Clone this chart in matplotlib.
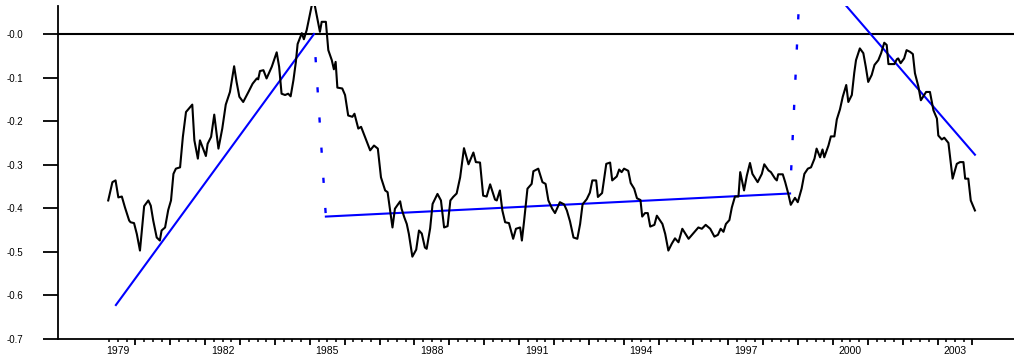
import matplotlib
matplotlib.use("Agg")
import matplotlib.pyplot as plt
import numpy as np

plt.rcParams["font.family"] = ["Liberation Sans", "DejaVu Sans"]

# serie mensal (ano decimal, valor)
anos = [1979.22, 1979.34, 1979.43, 1979.51, 1979.61, 1979.70, 1979.82, 1979.86, 1979.96, 1980.04,
        1980.13, 1980.25, 1980.37, 1980.44, 1980.51, 1980.61, 1980.70, 1980.75, 1980.85, 1980.94,
        1981.02, 1981.09, 1981.16, 1981.28, 1981.36, 1981.45, 1981.63, 1981.69, 1981.79, 1981.85,
        1982.02, 1982.07, 1982.17, 1982.26, 1982.38, 1982.49, 1982.59, 1982.71, 1982.83, 1982.90,
        1982.98, 1983.09, 1983.24, 1983.36, 1983.48, 1983.52, 1983.57, 1983.67, 1983.76, 1983.91,
        1984.05, 1984.12, 1984.19, 1984.29, 1984.38, 1984.45, 1984.53, 1984.60, 1984.65, 1984.77,
        1984.83, 1984.91, 1985.10, 1985.29, 1985.34, 1985.46, 1985.53, 1985.63, 1985.69, 1985.74,
        1985.79, 1985.93, 1986.01, 1986.10, 1986.22, 1986.28, 1986.39, 1986.47, 1986.58, 1986.73,
        1986.84, 1986.95, 1987.04, 1987.16, 1987.23, 1987.37, 1987.44, 1987.59, 1987.63, 1987.71,
        1987.78, 1987.84, 1987.94, 1988.05, 1988.13, 1988.21, 1988.30, 1988.35, 1988.45, 1988.52,
        1988.66, 1988.76, 1988.85, 1988.95, 1989.03, 1989.11, 1989.21, 1989.31, 1989.42, 1989.55,
        1989.69, 1989.76, 1989.88, 1989.97, 1990.07, 1990.17, 1990.31, 1990.36, 1990.45, 1990.52,
        1990.60, 1990.71, 1990.83, 1990.91, 1991.03, 1991.08, 1991.14, 1991.24, 1991.36, 1991.41,
        1991.55, 1991.67, 1991.76, 1991.84, 1991.95, 1992.03, 1992.17, 1992.29, 1992.37, 1992.46,
        1992.56, 1992.67, 1992.75, 1992.82, 1992.94, 1993.03, 1993.10, 1993.21, 1993.26, 1993.38,
        1993.50, 1993.61, 1993.67, 1993.80, 1993.87, 1993.94, 1994.01, 1994.13, 1994.20, 1994.30,
        1994.38, 1994.48, 1994.53, 1994.61, 1994.69, 1994.76, 1994.88, 1994.95, 1995.11, 1995.19,
        1995.28, 1995.38, 1995.47, 1995.57, 1995.68, 1995.86, 1996.02, 1996.14, 1996.24, 1996.35,
        1996.48, 1996.60, 1996.70, 1996.78, 1996.86, 1996.93, 1997.03, 1997.10, 1997.19, 1997.29,
        1997.34, 1997.45, 1997.53, 1997.62, 1997.69, 1997.84, 1997.96, 1998.03, 1998.15, 1998.22,
        1998.34, 1998.39, 1998.43, 1998.56, 1998.63, 1998.72, 1998.79, 1998.91, 1998.99, 1999.10,
        1999.18, 1999.28, 1999.37, 1999.47, 1999.53, 1999.63, 1999.70, 1999.75, 1999.87, 1999.94,
        2000.04, 2000.11, 2000.20, 2000.28, 2000.38, 2000.44, 2000.54, 2000.61, 2000.66, 2000.77,
        2000.87, 2000.94, 2001.01, 2001.11, 2001.19, 2001.30, 2001.38, 2001.47, 2001.54, 2001.59,
        2001.76, 2001.83, 2001.87, 2001.94, 2002.04, 2002.11, 2002.21, 2002.29, 2002.35, 2002.45,
        2002.52, 2002.59, 2002.67, 2002.78, 2002.88, 2002.98, 2003.02, 2003.12, 2003.19, 2003.31,
        2003.38, 2003.43, 2003.55, 2003.64, 2003.74, 2003.79, 2003.88, 2003.95, 2004.07]
valores = [-0.382, -0.340, -0.336, -0.375, -0.373, -0.398, -0.428, -0.432, -0.434, -0.459,
           -0.497, -0.395, -0.382, -0.394, -0.428, -0.467, -0.474, -0.451, -0.444, -0.404,
           -0.382, -0.321, -0.309, -0.306, -0.236, -0.179, -0.162, -0.244, -0.286, -0.244,
           -0.280, -0.252, -0.236, -0.185, -0.263, -0.217, -0.162, -0.133, -0.074, -0.110,
           -0.144, -0.156, -0.133, -0.114, -0.102, -0.104, -0.085, -0.083, -0.102, -0.075,
           -0.042, -0.075, -0.137, -0.140, -0.137, -0.143, -0.106, -0.064, -0.023, 0.002,
           -0.012, 0.009, 0.083, 0.005, 0.028, 0.028, -0.037, -0.060, -0.081, -0.064,
           -0.123, -0.125, -0.140, -0.187, -0.190, -0.183, -0.217, -0.213, -0.236, -0.267,
           -0.256, -0.263, -0.329, -0.359, -0.363, -0.444, -0.401, -0.384, -0.401, -0.421,
           -0.436, -0.459, -0.511, -0.495, -0.451, -0.458, -0.490, -0.493, -0.446, -0.390,
           -0.367, -0.382, -0.444, -0.441, -0.382, -0.374, -0.366, -0.329, -0.262, -0.299,
           -0.272, -0.294, -0.295, -0.371, -0.373, -0.345, -0.380, -0.382, -0.359, -0.405,
           -0.432, -0.434, -0.470, -0.447, -0.444, -0.474, -0.432, -0.355, -0.344, -0.315,
           -0.309, -0.340, -0.344, -0.382, -0.401, -0.411, -0.386, -0.391, -0.405, -0.430,
           -0.467, -0.470, -0.436, -0.391, -0.379, -0.364, -0.336, -0.336, -0.374, -0.365,
           -0.298, -0.295, -0.336, -0.327, -0.311, -0.317, -0.309, -0.314, -0.342, -0.355,
           -0.377, -0.381, -0.419, -0.411, -0.411, -0.442, -0.438, -0.417, -0.436, -0.459,
           -0.497, -0.481, -0.469, -0.478, -0.447, -0.470, -0.455, -0.444, -0.447, -0.438,
           -0.447, -0.465, -0.461, -0.447, -0.454, -0.436, -0.427, -0.398, -0.373, -0.373,
           -0.317, -0.359, -0.325, -0.296, -0.321, -0.340, -0.321, -0.299, -0.313, -0.317,
           -0.332, -0.336, -0.322, -0.322, -0.340, -0.367, -0.392, -0.376, -0.386, -0.355,
           -0.321, -0.309, -0.306, -0.286, -0.263, -0.283, -0.265, -0.283, -0.256, -0.235,
           -0.235, -0.196, -0.173, -0.144, -0.117, -0.156, -0.140, -0.089, -0.060, -0.033,
           -0.044, -0.075, -0.110, -0.094, -0.071, -0.060, -0.044, -0.020, -0.025, -0.069,
           -0.069, -0.058, -0.056, -0.067, -0.056, -0.037, -0.041, -0.046, -0.090, -0.121,
           -0.152, -0.143, -0.133, -0.133, -0.175, -0.194, -0.233, -0.242, -0.238, -0.250,
           -0.298, -0.332, -0.298, -0.294, -0.294, -0.332, -0.332, -0.382, -0.405]

# tendencias por trecho (inicio, fim)
trecho_anos = [(1979.44, 1985.12), (1985.46, 1998.77), (1999.09, 2004.07)]
trecho_vals = [(-0.622, 0.0), (-0.419, -0.366), (0.184, -0.277)]

ytick_vals = [-0.7, -0.6, -0.5, -0.4, -0.3, -0.2, -0.1, 0.0]
ytick_labels = ["-0.7", "-0.6", "-0.5", "-0.4", "-0.3", "-0.2", "-0.1", "-0.0"]
ano_labels = [1979, 1982, 1985, 1988, 1991, 1994, 1997, 2000, 2003]

fig = plt.figure(figsize=(10.14, 3.58), dpi=100)
ax = fig.add_axes([58 / 1014, 19 / 358, 956 / 1014, 333 / 358])

ax.axhline(0.0, color="black", lw=1.5, zorder=1)

azul = "#0000ff"
for (t0, t1), (v0, v1) in zip(trecho_anos, trecho_vals):
    ax.plot([t0, t1], [v0, v1], color=azul, lw=1.5, zorder=2)
# saltos entre os trechos
for i in range(len(trecho_anos) - 1):
    ax.plot([trecho_anos[i][1], trecho_anos[i + 1][0]],
            [trecho_vals[i][1], trecho_vals[i + 1][0]],
            color=azul, lw=1.7, linestyle=(3.0, (2.2, 10.6)), zorder=2)

ax.plot(anos, valores, color="black", lw=1.5, zorder=3)

ax.set_xlim(1977.78, 2005.19)
ax.set_ylim(-0.7, 0.0643)

ax.spines["top"].set_visible(False)
ax.spines["right"].set_visible(False)
ax.spines["left"].set_linewidth(1.3)
ax.spines["bottom"].set_linewidth(1.3)

ax.set_yticks(ytick_vals)
ax.set_yticklabels(ytick_labels)
ax.tick_params(axis="y", direction="out", length=10.8, width=1.3, pad=14, labelsize=7)

ax.set_xticks(np.arange(1980, 2005))
ax.set_xticks(np.arange(1979.25, 2004, 0.25), minor=True)
ax.set_xticklabels([])
ax.tick_params(axis="x", which="major", direction="out", length=4.3, width=1.3)
ax.tick_params(axis="x", which="minor", direction="out", length=2.5, width=1.1)

for ano in ano_labels:
    ax.text(ano + 0.5, -0.022, str(ano), transform=ax.get_xaxis_transform(),
            ha="center", va="top", fontsize=7.5)

fig.savefig("out.png", dpi=100)
